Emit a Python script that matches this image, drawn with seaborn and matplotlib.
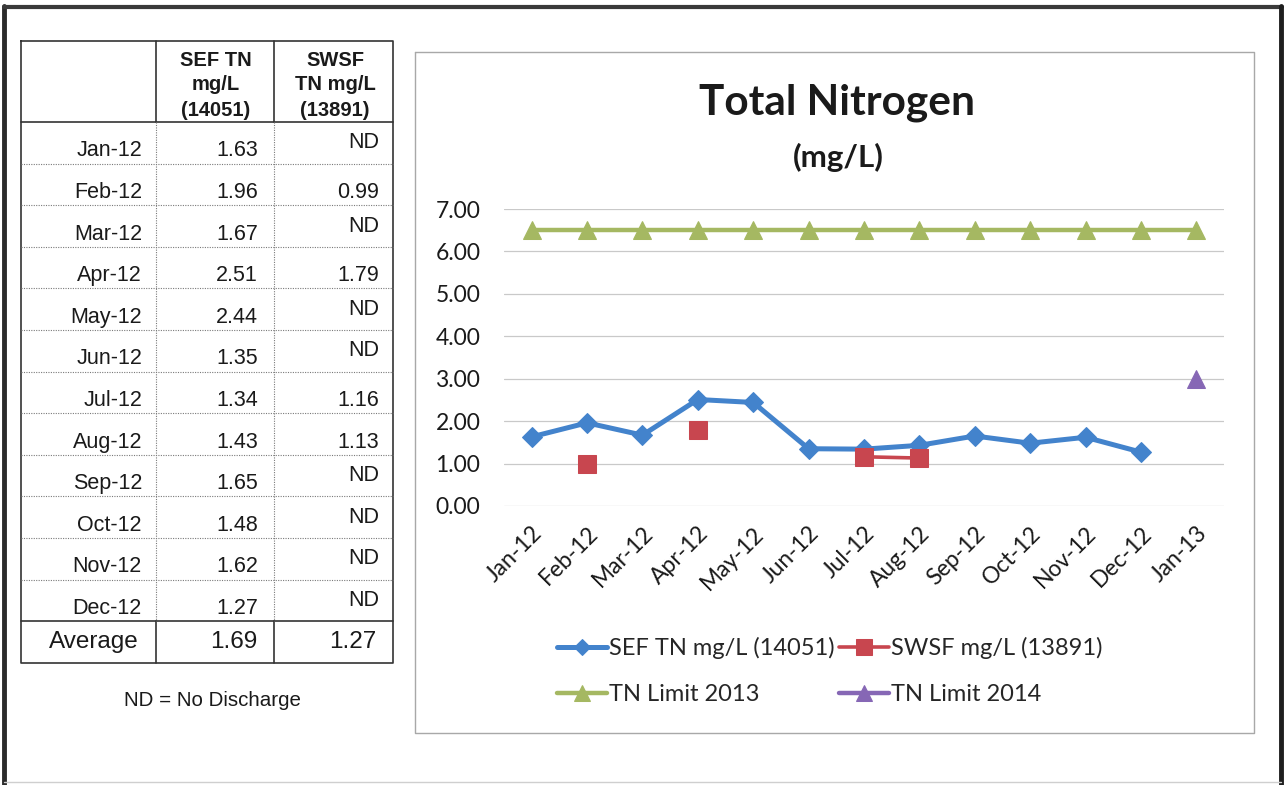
import numpy as np
import pandas as pd
import matplotlib
matplotlib.use("Agg")
import matplotlib.pyplot as plt
import seaborn as sns

# table / chart data
months = ["Jan-12", "Feb-12", "Mar-12", "Apr-12", "May-12", "Jun-12",
          "Jul-12", "Aug-12", "Sep-12", "Oct-12", "Nov-12", "Dec-12"]
axis_months = months + ["Jan-13"]
sef_tn = [1.63, 1.96, 1.67, 2.51, 2.44, 1.35, 1.34, 1.43, 1.65, 1.48, 1.62, 1.27]
swsf_tn = ["ND", "0.99", "ND", "1.79", "ND", "ND", "1.16", "1.13", "ND", "ND", "ND", "ND"]
average_row = ["Average", "1.69", "1.27"]
header_sef = ["SEF TN", "mg/L", "(14051)"]
header_swsf = ["SWSF", "TN mg/L", "(13891)"]
limit_2013 = [6.5, 6.5, 6.5, 6.5, 6.5, 6.5, 6.5, 6.5, 6.5, 6.5, 6.5, 6.5, 6.5]
limit_2014_month = ["Jan-13"]
limit_2014 = [3.0]
y_ticks = [0, 1, 2, 3, 4, 5, 6, 7]

C_SEF = "#4383CC"
C_SWSF = "#C8464F"
C_2013 = "#A5B862"
C_2014 = "#8667B5"
TABLE_FONT = "Liberation Sans"
CHART_FONT = "Lato"

sns.set_style("white")

W, H = 1285, 785
fig = plt.figure(figsize=(W / 100, H / 100), dpi=100)
fig.patch.set_facecolor("white")

# page layer in pixel coordinates
page = fig.add_axes([0, 0, 1, 1])
page.set_xlim(0, W)
page.set_ylim(H, 0)
page.axis("off")

# page frame (scanned border)
page.plot([4, 4], [6, 785], color="#2b2b2b", lw=3.5)
page.plot([4, 1282], [7, 7], color="#3a3a3a", lw=3)
page.plot([1281, 1281], [6, 785], color="#1e1e1e", lw=3.5)
page.plot([4, 1281], [782, 782], color="#cfcfcf", lw=1)

# ---- table ----
tl, tr, tt, tb = 21, 393, 41, 663
hdr_b = 122
row_h = 41.6
avg_t = hdr_b + row_h * len(months)
col1, col2 = 156, 274
solid = dict(color="#333333", lw=1.2)
dotted = dict(color="#7a7a7a", lw=0.8, linestyle=(0, (1, 1.2)))

page.plot([tl, tr, tr, tl, tl], [tt, tt, tb, tb, tt], **solid)
page.plot([tl, tr], [hdr_b, hdr_b], **solid)
page.plot([tl, tr], [avg_t, avg_t], **solid)
for cx in (col1, col2):
    page.plot([cx, cx], [tt, hdr_b], **solid)
    page.plot([cx, cx], [avg_t, tb], **solid)
    page.plot([cx, cx], [hdr_b, avg_t], **dotted)
for i in range(1, len(months)):
    yy = hdr_b + row_h * i
    page.plot([tl, tr], [yy, yy], **dotted)

for j, (a, b) in enumerate(zip(header_sef, header_swsf)):
    yy = 60 + 25 * j
    page.text(216, yy, a, ha="center", va="center", fontsize=14.5,
              fontweight="bold", family=TABLE_FONT, color="#1a1a1a")
    page.text(335, yy, b, ha="center", va="center", fontsize=14.5,
              fontweight="bold", family=TABLE_FONT, color="#1a1a1a")

for i, (m, v, s) in enumerate(zip(months, sef_tn, swsf_tn)):
    top = hdr_b + row_h * i
    page.text(142, top + 29, m, ha="right", va="center", fontsize=15.5,
              family=TABLE_FONT, color="#1a1a1a")
    page.text(258, top + 29, f"{v:.2f}", ha="right", va="center", fontsize=15.5,
              family=TABLE_FONT, color="#1a1a1a")
    sy = top + 21 if s == "ND" else top + 29
    page.text(379, sy, s, ha="right", va="center", fontsize=15.5,
              family=TABLE_FONT, color="#1a1a1a")

page.text(139, avg_t + 21, average_row[0], ha="right", va="center", fontsize=17.5,
          family=TABLE_FONT, color="#1a1a1a")
page.text(257, avg_t + 21, average_row[1], ha="right", va="center", fontsize=17.5,
          family=TABLE_FONT, color="#1a1a1a")
page.text(376, avg_t + 21, average_row[2], ha="right", va="center", fontsize=17.5,
          family=TABLE_FONT, color="#1a1a1a")
page.text(212, 700, "ND = No Discharge", ha="center", va="center", fontsize=14.8,
          family=TABLE_FONT, color="#1a1a1a")

# ---- chart box ----
page.plot([415, 1254, 1254, 415, 415], [52, 52, 733, 733, 52], color="#a8a8a8", lw=1)
page.text(837, 103, "Total Nitrogen", ha="center", va="center", fontsize=30.5,
          fontweight="bold", family=CHART_FONT, color="#1a1a1a")
page.text(838, 157, "(mg/L)", ha="center", va="center", fontsize=22.5,
          fontweight="bold", family=CHART_FONT, color="#1a1a1a")

ax = fig.add_axes([504 / W, 1 - 506 / H, 720 / W, 297 / H])
ax.set_facecolor("none")

pos = {m: i for i, m in enumerate(axis_months)}

sef_df = pd.DataFrame({"x": [pos[m] for m in months], "y": sef_tn})
swsf_df = pd.DataFrame({"x": [pos[m] for m in months],
                        "y": pd.to_numeric(pd.Series(swsf_tn), errors="coerce")})
swsf_df["run"] = swsf_df["y"].isna().cumsum()
swsf_df = swsf_df.dropna()
lim13_df = pd.DataFrame({"x": [pos[m] for m in axis_months], "y": limit_2013})
lim14_df = pd.DataFrame({"x": [pos[m] for m in limit_2014_month], "y": limit_2014})

sns.lineplot(data=lim13_df, x="x", y="y", ax=ax, color=C_2013, lw=3.2,
             marker="^", markersize=13, markeredgecolor=C_2013,
             label="TN Limit 2013", zorder=3)
sns.lineplot(data=sef_df, x="x", y="y", ax=ax, color=C_SEF, lw=3.6,
             marker="D", markersize=10, markeredgecolor=C_SEF,
             label="SEF TN mg/L (14051)", zorder=4)
sns.lineplot(data=swsf_df, x="x", y="y", units="run", estimator=None, ax=ax,
             color=C_SWSF, lw=2.6, marker="s", markersize=13,
             markeredgecolor=C_SWSF, label="SWSF mg/L (13891)", zorder=5)
sns.lineplot(data=lim14_df, x="x", y="y", ax=ax, color=C_2014, lw=3.2,
             marker="^", markersize=13, markeredgecolor=C_2014,
             label="TN Limit 2014", zorder=3)

ax.set_xlim(-0.5, len(axis_months) - 0.5)
ax.set_ylim(0, 7)
ax.set_yticks(y_ticks)
ax.set_yticklabels([f"{t:.2f}" for t in y_ticks], fontsize=16.5,
                   family=CHART_FONT, color="#1a1a1a")
ax.set_xticks(range(len(axis_months)))
ax.set_xticklabels(axis_months, rotation=45, ha="right", rotation_mode="anchor",
                   fontsize=16.5, family=CHART_FONT, color="#1a1a1a")
ax.tick_params(axis="y", length=0, pad=17)
ax.tick_params(axis="x", length=0, pad=12)
ax.set_xlabel("")
ax.set_ylabel("")
for s in ax.spines.values():
    s.set_visible(False)
ax.grid(False)
for t in y_ticks:
    ax.axhline(t, color="#c9c9c9", lw=0.9, zorder=1)

handles, labels = ax.get_legend_handles_labels()
lookup = {}
for h, l in zip(handles, labels):
    lookup.setdefault(l, h)
order = ["SEF TN mg/L (14051)", "TN Limit 2013", "SWSF mg/L (13891)", "TN Limit 2014"]
ax.legend([lookup[l] for l in order], order, ncol=2, frameon=False,
          loc="center", bbox_to_anchor=(830 / W, 1 - 671 / H),
          bbox_transform=fig.transFigure, numpoints=1, handlelength=2.1,
          handletextpad=0.1, columnspacing=0.2, labelspacing=1.05,
          markerscale=0.85, prop={"family": CHART_FONT, "size": 17})

fig.savefig("out.png", dpi=100, facecolor="white")
